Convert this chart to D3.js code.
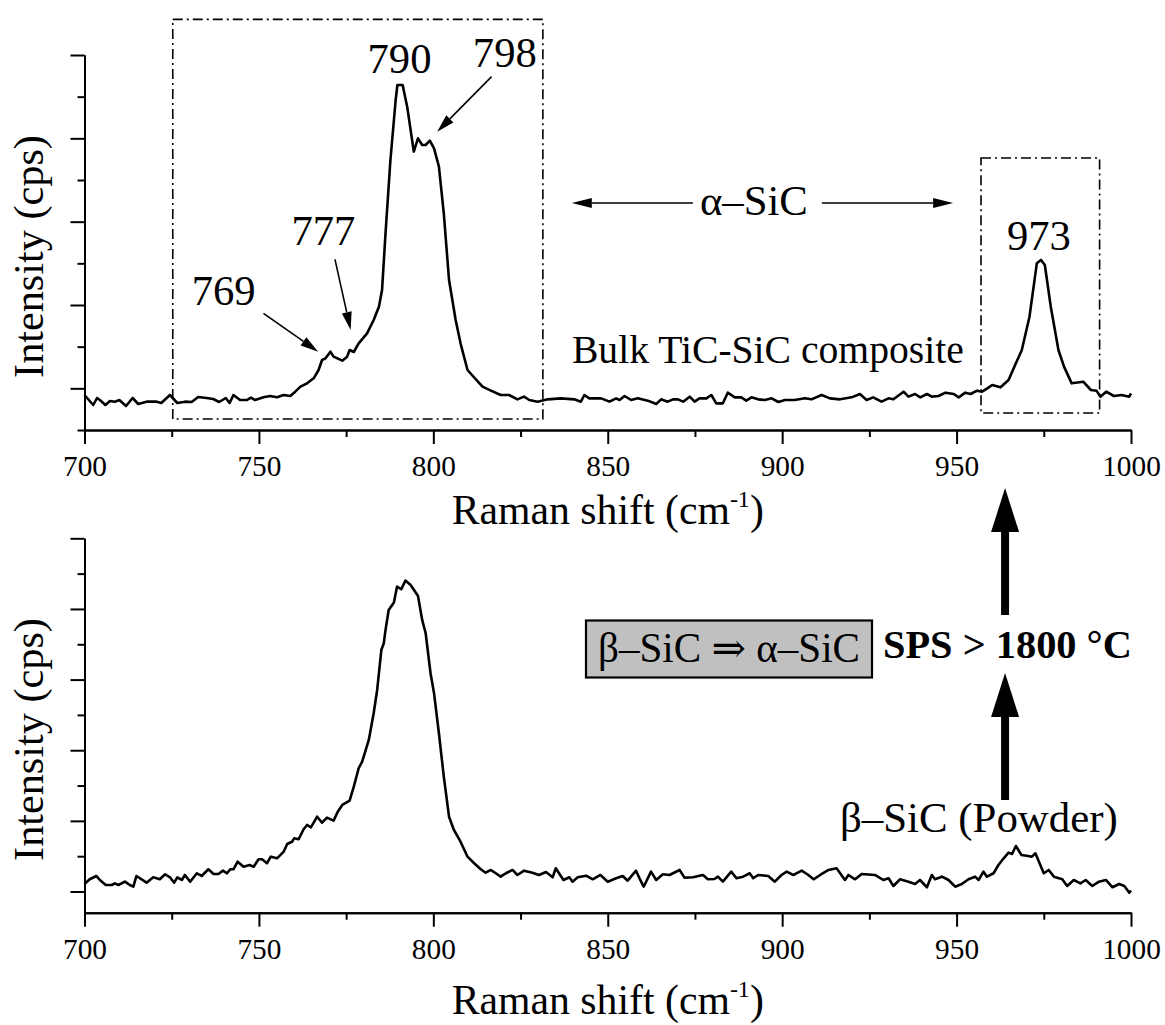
<!DOCTYPE html>
<html>
<head>
<meta charset="utf-8">
<script src="https://cdn.jsdelivr.net/npm/d3@7"></script>
<style>
  body { margin: 0; background: #fff; }
  svg text { font-family: "Liberation Serif", "Times New Roman", "DejaVu Serif", "Noto Serif", serif; fill: #000; }
</style>
</head>
<body>
<svg id="chart" width="1165" height="1025"></svg>
<script>
// Bulk TiC-SiC composite spectrum (Raman shift in cm-1, intensity in cps)
const topShift = [700,702.5,703.6,704.4,706,707.3,708.7,710,711.9,713.8,715.4,717.8,720.7,722,724.5,726.6,728.8,730.7,732.6,735,736.9,738.6,740.5,741.6,742.7,744.6,746.6,747.7,748.9,751.3,753.2,755.2,757.1,759,760.4,761.9,763.8,765.7,767.1,768.1,769.1,770.5,771.4,773.9,775.3,776,777.2,778.6,781,782.9,784.4,785.3,786.3,787.7,789.2,789.7,791.2,792.5,794.4,795.6,796.8,797.8,799,800.2,801.6,803,804.5,806.4,807.8,809.8,812.2,814.1,816.5,819.3,821.7,824.1,826,827.5,829.9,832.8,836.6,840.4,842.3,843.3,844.7,848.1,850.5,852.4,853.4,854.8,856.7,858.6,861.5,863.9,865.3,867.2,868.7,870.1,871.6,873.5,874.9,876.3,878.3,879.7,881.1,883,884.4,886.4,888.3,889.7,891.2,893.1,895,897,898.9,900.8,903.6,906.5,908.4,911.3,913.7,916.6,919.9,922.3,924.2,926.1,928.5,930.5,931.9,934.8,936.2,938.1,939.6,941.5,942.9,944.8,946.8,949.2,950.6,952.5,954,955.9,957.3,958.8,960.2,962.6,964.9,967,968.7,970.9,973,974.2,975.3,977,979.2,980.8,983,986.3,988.5,990.1,991.2,992.9,995.1,997.3,999.5,1000];
const topCounts = [420,300,384,360,300,348,340,360,288,384,312,340,340,324,420,324,340,336,396,384,372,336,384,324,420,360,360,388,360,392,408,392,420,408,460,520,560,620,720,840,860,940,880,832,880,960,936,1040,1160,1320,1480,1680,2364,3240,3960,4140,4140,3880,3340,3500,3420,3420,3472,3380,3160,2600,1800,1320,1040,720,608,520,472,420,420,368,400,360,340,368,380,368,340,420,380,380,340,380,360,408,360,380,352,312,368,340,368,368,340,400,340,380,380,420,320,320,448,392,392,352,392,368,360,380,336,360,360,380,368,420,380,368,392,432,360,392,340,380,368,460,400,432,392,432,400,408,448,432,392,448,432,472,460,500,540,512,600,800,960,1360,2000,2040,1980,1480,960,760,560,580,480,472,400,460,408,420,400,440];

// beta-SiC powder spectrum
const botShift = [700,701.5,703.4,704.4,706.1,707.8,708.7,709.7,711.6,713,714,714.9,717.8,719.7,721.6,723.1,724.5,725.7,726.6,727.9,728.8,730.3,732.2,733.6,735.5,737,738.4,739.7,740.8,741.8,742.7,743.9,745.6,747.3,748.5,749.9,750.9,752.3,753.4,755.2,757.1,758.1,759.5,760.1,761.4,762.8,763.8,764.9,766.7,768.1,769.5,771.4,772.6,773.9,776,777.2,778.6,779.6,781.5,782.9,783.9,785.1,785.8,786.3,787.2,788.7,789.6,790.8,792,793.5,795.6,796.8,797.8,799.2,800.2,801.6,803,804.5,805.9,807.8,809.8,811.7,813.6,815,816.5,817.9,819.3,820.8,822.7,824.1,826,828.4,830.3,832.3,834.2,835.1,837.3,839,839.9,841.4,843.8,845.7,847.9,850,852.4,854.3,855.7,858.1,859.1,860.3,862.4,863.9,865.8,867.7,870.6,872,874.4,877.3,878.7,880.6,881.6,883,885.4,886.9,888.8,890.7,891.7,893.1,896,897.9,899.8,901.3,903.2,905.6,907.5,909,910.9,913.3,915.6,918,919,920.9,922.8,926.6,929,930.5,931.9,933.8,936.2,938.1,939.5,941.5,942.9,943.8,945.8,947.7,949.6,951.5,953.4,955.3,956.3,957.7,958.7,960.6,962,963.5,964.9,965.9,967,968.6,970.5,971.6,972.6,974,975,976.4,977.9,980.3,981.7,983.6,985.5,987,988.9,990.8,992.8,994.7,996.6,998.1,999.5,1000];
const botCounts = [406,473,520,463,392,392,416,392,439,392,368,520,425,501,473,544,501,425,501,463,534,439,558,520,615,548,548,595,558,615,615,722,651,675,651,756,756,700,793,770,864,973,1005,1053,1039,1181,1242,1209,1359,1274,1345,1303,1430,1525,1586,1784,2045,2138,2445,2824,3153,3720,3815,4003,4286,4390,4616,4579,4701,4640,4484,4145,3956,3390,3107,2540,1926,1359,1171,1005,793,700,615,566,605,558,510,558,605,534,595,566,534,576,501,629,463,501,439,501,524,473,534,439,487,520,453,595,487,368,581,463,544,534,605,496,501,534,473,477,510,439,581,487,510,558,487,534,520,439,534,581,534,595,534,473,534,605,629,463,534,473,548,534,463,487,378,473,439,406,463,360,534,473,510,463,368,406,473,510,463,581,510,558,675,770,850,831,944,817,803,793,841,675,558,605,510,473,378,463,416,463,378,439,463,360,406,378,283,312];

// axis ticks
const xMajor = [700, 750, 800, 850, 900, 950, 1000];
const xMinor = [725, 775, 825, 875, 925, 975];
const topYMajor = [500, 1500, 2500, 3500, 4500];
const topYMinor = [0, 1000, 2000, 3000, 4000];
const botYMajor = [300, 1300, 2300, 3300, 4300, 5300];
const botYMinor = [800, 1800, 2800, 3800, 4800];

const svg = d3.select("#chart");
svg.append("rect").attr("width", 1165).attr("height", 1025).attr("fill", "#fff");

const x = d3.scaleLinear().domain([700, 1000]).range([84.5, 1131]);
const yTop = d3.scaleLinear().domain([0, 4500]).range([430, 55]);
const yBot = d3.scaleLinear().domain([0, 5300]).range([912.7, 538.3]);

// the serif face on the box may not be the one used in the figure,
// so size text by the width it takes in the figure
function fit(sel, w) {
  const cur = +sel.attr("font-size");
  const got = sel.node().getComputedTextLength();
  if (got > 0) sel.attr("font-size", cur * w / got);
  return sel;
}

// measure the tick label size once
const probe = svg.append("text").attr("font-size", 29).text("700");
fit(probe, 44);
const tickSize = +probe.attr("font-size");
probe.remove();

function drawPanel(yScale, yMajor, yMinor, shift, counts) {
  const g = svg.append("g");
  const base = yScale.range()[0];

  // x axis: major with labels, minor without
  const xa = g.append("g").attr("transform", `translate(0,${base})`)
    .call(d3.axisBottom(x).tickValues(xMajor).tickSize(14).tickSizeOuter(0)
      .tickPadding(11).tickFormat(d3.format("d")));
  g.append("g").attr("transform", `translate(0,${base})`)
    .call(d3.axisBottom(x).tickValues(xMinor).tickSize(7).tickSizeOuter(0).tickFormat(""));
  xa.attr("font-family", null);
  xa.selectAll("text").attr("font-size", tickSize);

  // y axis, no labels
  g.append("g").attr("transform", `translate(${x(700)},0)`)
    .call(d3.axisLeft(yScale).tickValues(yMajor).tickSize(14).tickSizeOuter(0).tickFormat(""));
  g.append("g").attr("transform", `translate(${x(700)},0)`)
    .call(d3.axisLeft(yScale).tickValues(yMinor).tickSize(7).tickSizeOuter(0).tickFormat(""));

  g.selectAll(".domain, .tick line").attr("stroke", "#000").attr("stroke-width", 2);

  const line = d3.line().x(d => x(d[0])).y(d => yScale(d[1]));
  g.append("path")
    .datum(d3.zip(shift, counts))
    .attr("fill", "none")
    .attr("stroke", "#000")
    .attr("stroke-width", 2.6)
    .attr("stroke-linejoin", "round")
    .attr("d", line);

  // y title
  const cy = (yScale.range()[0] + yScale.range()[1]) / 2 + 14;
  const yt = g.append("text")
    .attr("transform", `translate(43,${cy}) rotate(-90)`)
    .attr("text-anchor", "middle")
    .attr("font-size", 40)
    .text("Intensity (cps)");
  fit(yt, 243);
  return g;
}

function xTitle(yPos) {
  const t = svg.append("text")
    .attr("x", (x(700) + x(1000)) / 2)
    .attr("y", yPos)
    .attr("text-anchor", "middle")
    .attr("font-size", 40);
  t.append("tspan").text("Raman shift (cm");
  t.append("tspan").attr("font-size", 24).attr("dy", -17).text("-1");
  t.append("tspan").attr("dy", 17).text(")");
  fit(t, 313);
}

// thin or thick arrow with filled head
function arrow(x1, y1, x2, y2, len, half, width) {
  const a = Math.atan2(y2 - y1, x2 - x1);
  const bx = x2 - len * Math.cos(a), by = y2 - len * Math.sin(a);
  const nx = -Math.sin(a) * half, ny = Math.cos(a) * half;
  svg.append("line")
    .attr("x1", x1).attr("y1", y1).attr("x2", bx).attr("y2", by)
    .attr("stroke", "#000").attr("stroke-width", width);
  svg.append("path")
    .attr("d", `M${x2},${y2}L${bx + nx},${by + ny}L${bx - nx},${by - ny}Z`)
    .attr("fill", "#000");
}

function label(txt, xp, yp, w, bold) {
  const t = svg.append("text")
    .attr("x", xp).attr("y", yp)
    .attr("text-anchor", "middle")
    .attr("font-size", 40)
    .attr("font-weight", bold ? "bold" : "normal")
    .text(txt);
  return fit(t, w);
}

drawPanel(yTop, topYMajor, topYMinor, topShift, topCounts);
drawPanel(yBot, botYMajor, botYMinor, botShift, botCounts);
xTitle(524);
xTitle(1014);

// dash-dot boxes around the alpha-SiC bands
[[725.3, 831.4, 4928, 132], [957, 991, 3264, 204]].forEach(b => {
  svg.append("rect")
    .attr("x", x(b[0])).attr("y", yTop(b[2]))
    .attr("width", x(b[1]) - x(b[0])).attr("height", yTop(b[3]) - yTop(b[2]))
    .attr("fill", "none").attr("stroke", "#000").attr("stroke-width", 1.6)
    .attr("stroke-dasharray", "10,4,2,4");
});

// peak labels
label("790", x(790.3), yTop(4284), 64);
label("798", x(820.5), yTop(4360), 64);
label("777", x(768.5), yTop(2220), 64);
label("769", x(739.9), yTop(1500), 64);
label("973", x(973.6), yTop(2160), 64);
arrow(x(751.3), yTop(1400), x(767.0), yTop(939), 18, 5, 1.6);
arrow(x(771.8), yTop(2048), x(776.3), yTop(1200), 18, 5, 1.6);
arrow(x(816.7), yTop(4240), x(801.1), yTop(3580), 18, 5, 1.6);

// alpha-SiC span
label("α–SiC", x(891.9), yTop(2580), 108);
arrow(x(874.4), yTop(2724), x(839.7), yTop(2724), 20, 5, 1.6);
arrow(x(911.4), yTop(2724), x(949), yTop(2724), 20, 5, 1.6);
label("Bulk TiC-SiC composite", x(895.9), yTop(804), 392);

// bottom annotations
label("β–SiC (Powder)", x(956.4), yBot(1147), 278);
arrow(x(963.9), 615, x(963.9), 488, 44, 14, 8);
arrow(x(963.9), 800, x(963.9), 673, 44, 14, 8);

svg.append("rect")
  .attr("x", 586).attr("y", 620.5).attr("width", 286).attr("height", 57)
  .attr("fill", "#c0c0c0").attr("stroke", "#000").attr("stroke-width", 2.2);
label("β–SiC ⇒ α–SiC", 729, 662, 262);
const sps = svg.append("text")
  .attr("x", 883).attr("y", 658)
  .attr("font-size", 40).attr("font-weight", "bold")
  .text("SPS > 1800 °C");
fit(sps, 249);
</script>
</body>
</html>
